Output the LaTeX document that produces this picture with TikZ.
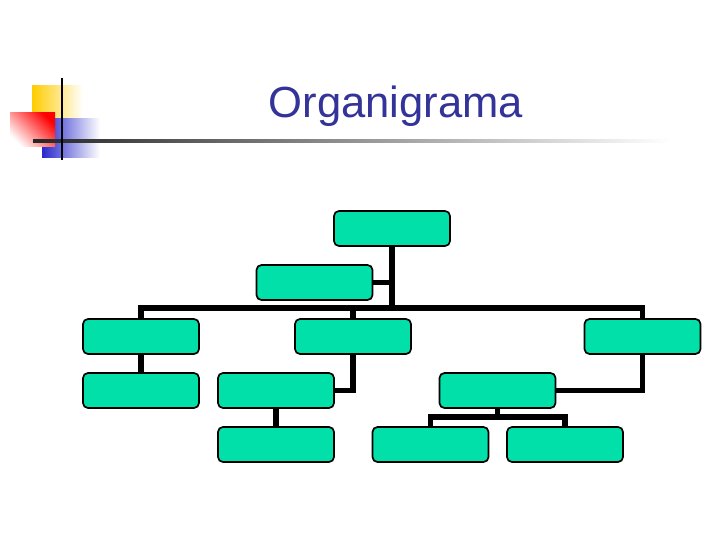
\documentclass[tikz,border=0pt]{standalone}
\usepackage{xcolor}
\usepackage{fontspec}
\usepackage{tikz}
\usetikzlibrary{calc}
\newfontfamily\titlefont{Liberation Sans}
\definecolor{boxteal}{RGB}{0,224,168}
\definecolor{titleblue}{RGB}{51,51,153}
\definecolor{logoyellow}{RGB}{255,204,0}
\definecolor{logored}{RGB}{255,0,0}
\definecolor{logoblue}{RGB}{40,40,204}

\begin{document}
\begin{tikzpicture}[font=\small,
  orgbox/.style={draw=black,line width=1.2pt,fill=boxteal,rounded corners=3.5pt,
    minimum width=2.9cm,minimum height=0.875cm,inner sep=0pt},
  conn/.style={line width=3.6pt}]
  \useasboundingbox (0,0) rectangle (18,13.5);
  % logo
  \shade[left color=logoyellow,middle color=logoyellow,right color=white] (0.8,10.55) rectangle (2.075,11.35);
  \shade[left color=logoblue,middle color=logoblue,right color=white] (1.05,9.55) rectangle (2.5,10.525);
  \shade[top color=logored,bottom color=white,shading angle=-45] (0.25,9.825) rectangle (1.375,10.675);
  \shade[left color=black!85,right color=white] (0.83,9.94) rectangle (16.75,10.01);
  \draw[line width=2.1pt] (1.55,9.5) -- (1.55,11.55);
  % title
  \node[font=\titlefont\fontsize{31}{36}\selectfont,text=titleblue,anchor=base] (title) at (9.9,10.55) {Organigrama};
  % boxes
  \node[orgbox] (top) at (9.8,7.7875) {};
  \node[orgbox] (asst) at (7.8625,6.4375) {};
  \node[orgbox] (a1) at (3.525,5.0875) {};
  \node[orgbox] (b1) at (8.825,5.0875) {};
  \node[orgbox] (c1) at (16.0625,5.0875) {};
  \node[orgbox] (a2) at (3.525,3.7375) {};
  \node[orgbox] (b2) at (6.9,3.7375) {};
  \node[orgbox] (c2) at (12.4375,3.7375) {};
  \node[orgbox] (b3) at (6.9,2.3875) {};
  \node[orgbox] (c3a) at (10.7625,2.3875) {};
  \node[orgbox] (c3b) at (14.125,2.3875) {};
  % connectors
  \coordinate (bus) at (0,5.8);
  \coordinate (split) at (0,3.075);
  \draw[conn] (top.south) -- (top |- bus);
  \draw[conn] (asst.east) -- (asst -| top);
  \draw[conn] (a1.north) -- (a1 |- bus) -- (c1 |- bus) -- (c1.north);
  \draw[conn] (b1.north) -- (b1 |- bus);
  \draw[conn] (a1.south) -- (a2.north);
  \draw[conn] (b1.south) |- (b2.east);
  \draw[conn] (c1.south) |- (c2.east);
  \draw[conn] (b2.south) -- (b3.north);
  \draw[conn] (c2.south) -- (c2 |- split);
  \draw[conn] (c3a.north) -- (c3a |- split) -- (c3b |- split) -- (c3b.north);
\end{tikzpicture}
\end{document}
